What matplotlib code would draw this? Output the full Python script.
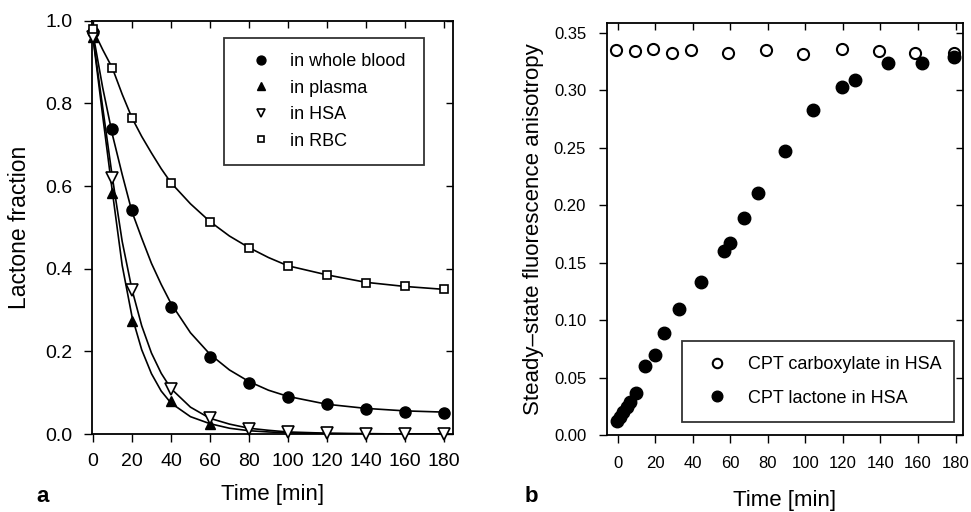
"""
Lactone hydrolysis in blood fractions (a) and anisotropy of CPT in HSA (b)
"""
import matplotlib
matplotlib.use("Agg")
from matplotlib import pyplot as plt

plt.rcParams["font.family"] = ["Liberation Sans", "DejaVu Sans"]

# panel a: measured lactone fraction
time_a = [0, 10, 20, 40, 60, 80, 100, 120, 140, 160, 180]
blood = [0.973, 0.737, 0.542, 0.308, 0.186, 0.123, 0.090, 0.072, 0.060, 0.054, 0.052]
rbc = [0.979, 0.885, 0.765, 0.608, 0.514, 0.451, 0.407, 0.385, 0.366, 0.358, 0.350]
hsa = [0.961, 0.619, 0.348, 0.108, 0.038, 0.013, 0.005, 0.002, 0.001, 0.0, 0.0]
time_plasma = [0, 10, 20, 40, 60]
plasma = [0.960, 0.582, 0.273, 0.080, 0.024]

# panel a: fitted curves
time_fit = [0, 5, 10, 15, 20, 25, 30, 35, 40, 50, 60, 70, 80, 90, 100, 120, 140, 160, 180]
blood_fit = [0.970, 0.838, 0.724, 0.628, 0.538, 0.474, 0.413, 0.362, 0.316, 0.245, 0.193,
             0.155, 0.127, 0.106, 0.091, 0.072, 0.062, 0.056, 0.053]
rbc_fit = [0.979, 0.930, 0.885, 0.822, 0.765, 0.720, 0.680, 0.642, 0.608, 0.557, 0.514,
           0.479, 0.451, 0.427, 0.407, 0.385, 0.367, 0.357, 0.350]
plasma_fit = [0.960, 0.770, 0.585, 0.408, 0.285, 0.204, 0.146, 0.104, 0.075, 0.042, 0.025,
              0.014, 0.008, 0.005, 0.003, 0.001, 0.0, 0.0, 0.0]
hsa_fit = [0.961, 0.790, 0.620, 0.466, 0.350, 0.262, 0.196, 0.147, 0.110, 0.065, 0.038,
           0.024, 0.014, 0.009, 0.005, 0.002, 0.001, 0.0, 0.0]

# panel b: steady-state anisotropy
time_carb = [-1, 9, 19, 29, 39, 59, 79, 99, 119.5, 139, 158.5, 179]
carb = [0.335, 0.334, 0.336, 0.3325, 0.335, 0.333, 0.3355, 0.332, 0.336, 0.334, 0.333, 0.3325]
time_lac = [-0.5, 1.2, 3.0, 4.8, 6.5, 10, 14.7, 19.9, 24.7, 32.5, 44.5, 56.8, 59.8, 67.1,
            74.7, 89.4, 104.2, 119.3, 126.2, 144.1, 162.2, 179]
lac = [0.0125, 0.016, 0.020, 0.0247, 0.029, 0.037, 0.060, 0.070, 0.089, 0.110, 0.133, 0.160,
       0.167, 0.189, 0.211, 0.247, 0.283, 0.303, 0.309, 0.324, 0.324, 0.3295]

fig = plt.figure(figsize=(9.71, 5.12), dpi=100)
ax1 = fig.add_axes([0.0947, 0.1523, 0.3718, 0.8073])
ax2 = fig.add_axes([0.6251, 0.1504, 0.3667, 0.8053])


def style_axes(ax, size, pad):
    for s in ax.spines.values():
        s.set_linewidth(1.3)
    ax.tick_params(axis="both", which="both", direction="out", length=6, width=1.0,
                   labelsize=size, pad=pad, top=True, right=True)
    # top and right ticks point inward
    for t in ax.xaxis.get_major_ticks():
        t.tick2line.set_marker(3)
        t.tick2line.set_markersize(5)
    for t in ax.yaxis.get_major_ticks():
        t.tick2line.set_marker(0)
        t.tick2line.set_markersize(5)


# panel a
ax1.plot(time_fit, blood_fit, color="black", lw=1.2)
ax1.plot(time_fit, rbc_fit, color="black", lw=1.2)
ax1.plot(time_fit, plasma_fit, color="black", lw=1.2)
ax1.plot(time_fit, hsa_fit, color="black", lw=1.2)
ax1.plot(time_a, blood, "o", color="black", ms=8, clip_on=False, label="in whole blood", zorder=3)
ax1.plot(time_plasma, plasma, "^", color="black", ms=7.5, clip_on=False, label="in plasma", zorder=3)
ax1.plot(time_a, hsa, "v", mfc="white", mec="black", mew=1.2, ms=8, clip_on=False,
         label="in HSA", zorder=3)
ax1.plot(time_a, rbc, "s", mfc="white", mec="black", mew=1.2, ms=6, clip_on=False,
         label="in RBC", zorder=3)
ax1.set_xlim(-0.5, 184.6)
ax1.set_ylim(0, 1.0)
ax1.set_xticks(range(0, 181, 20))
ax1.set_yticks([0.0, 0.2, 0.4, 0.6, 0.8, 1.0])
ax1.set_yticklabels(["0.0", "0.2", "0.4", "0.6", "0.8", "1.0"])
style_axes(ax1, 14, 8)
ax1.set_xlabel("Time [min]", fontsize=16, labelpad=10)
ax1.set_ylabel("Lactone fraction", fontsize=16.5, labelpad=10)
leg1 = ax1.legend(loc="upper left", bbox_to_anchor=(0.366, 0.639, 0.554, 0.319), mode="expand",
                  fontsize=13, frameon=True, fancybox=False, borderpad=0.85, labelspacing=0.52,
                  handlelength=2.4, handletextpad=0.4, borderaxespad=0, markerscale=0.8)
leg1.get_frame().set_edgecolor("black")
leg1.get_frame().set_linewidth(1.3)

# panel b
ax2.plot(time_carb, carb, "o", mfc="white", mec="black", mew=1.5, ms=8, clip_on=False,
         label="CPT carboxylate in HSA", zorder=3)
ax2.plot(time_lac, lac, "o", color="black", ms=9, clip_on=False,
         label="CPT lactone in HSA", zorder=3)
ax2.set_xlim(-5.7, 184)
ax2.set_ylim(0, 0.359)
ax2.set_xticks(range(0, 181, 20))
ax2.set_yticks([0.0, 0.05, 0.10, 0.15, 0.20, 0.25, 0.30, 0.35])
ax2.set_yticklabels(["0.00", "0.05", "0.10", "0.15", "0.20", "0.25", "0.30", "0.35"])
style_axes(ax2, 12, 9)
ax2.set_xlabel("Time [min]", fontsize=16, labelpad=14)
ax2.set_ylabel("Steady\u2013state fluorescence anisotropy", fontsize=16, labelpad=7)
leg2 = ax2.legend(loc="upper left", bbox_to_anchor=(0.2107, 0.029, 0.764, 0.199), mode="expand",
                  fontsize=13, frameon=True, fancybox=False, borderpad=0.85, labelspacing=0.9,
                  handlelength=2.2, handletextpad=0.6, borderaxespad=0, markerscale=0.85)
leg2.get_frame().set_edgecolor("black")
leg2.get_frame().set_linewidth(1.3)

fig.text(0.044, 0.03, "a", fontsize=16, fontweight="bold", ha="center", va="center")
fig.text(0.547, 0.03, "b", fontsize=16, fontweight="bold", ha="center", va="center")

fig.savefig("out.png", dpi=100)
